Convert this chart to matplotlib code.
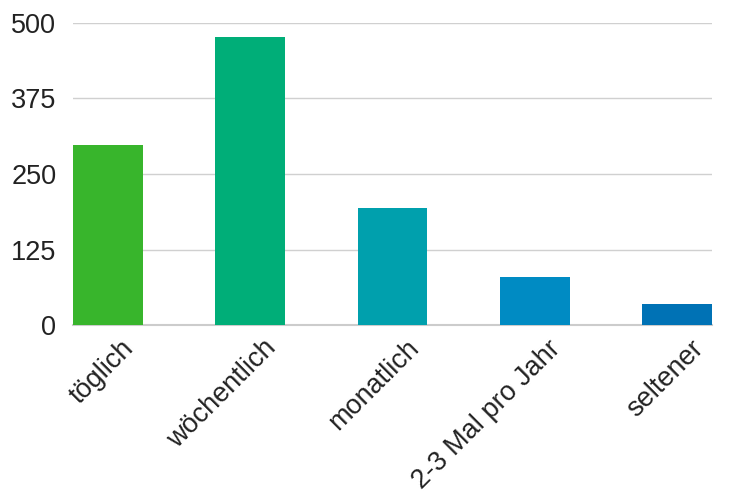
import matplotlib
matplotlib.use('Agg')
import matplotlib.pyplot as plt
from matplotlib.transforms import ScaledTranslation

categories = ['töglich', 'wöchentlich', 'monatlich', '2-3 Mal pro Jahr', 'seltener']
values = [298, 477, 194, 80, 34]
colors = ['#38b52c', '#00ae78', '#00a0ad', '#008bc3', '#0072b5']
yticks = [0, 125, 250, 375, 500]

plt.rcParams['font.family'] = ['Liberation Sans', 'DejaVu Sans']

fig = plt.figure(figsize=(7.32, 4.99), dpi=100)
ax = fig.add_axes([73 / 732, 1 - 325 / 499, (712 - 73) / 732, (325 - 23) / 499])

width = 0.492
x = range(len(categories))
ax.bar(x, values, width=width, color=colors, zorder=3)

ax.set_xlim(-width / 2, len(categories) - 1 + width / 2)
ax.set_ylim(0, 500)
ax.set_yticks(yticks)
ax.set_yticklabels([str(v) for v in yticks], fontsize=19.5, color='#222222')
ax.set_xticks(list(x))
ax.set_xticklabels(categories, rotation=45, ha='right', va='center',
                   rotation_mode='anchor', fontsize=19.5, color='#222222')
ax.tick_params(axis='both', length=0)
ax.tick_params(axis='y', pad=12)
ax.tick_params(axis='x', pad=14)

# shift rotated labels to the right like the original
shift = ScaledTranslation(16 / 72, 0, fig.dpi_scale_trans)
for lbl in ax.get_xticklabels():
    lbl.set_transform(lbl.get_transform() + shift)

ax.grid(axis='y', color='#d0d0d0', linewidth=1, zorder=0)
for side in ['top', 'right', 'left']:
    ax.spines[side].set_visible(False)
ax.spines['bottom'].set_color('#cccccc')
ax.spines['bottom'].set_linewidth(1.5)

fig.savefig('out.png', dpi=100)
